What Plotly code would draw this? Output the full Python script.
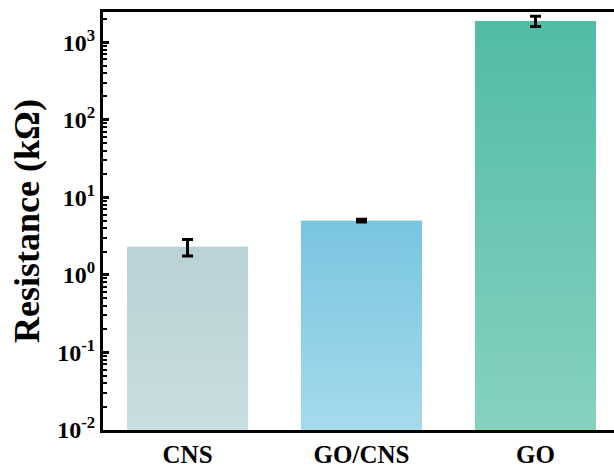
import plotly.graph_objects as go

categories = ["CNS", "GO/CNS", "GO"]
resistance = [2.3, 5.0, 1880]          # kΩ
resistance_err = [0.55, 0.2, 280]
top_colors = ["#B9D2D5", "#78C5E0", "#52BBA6"]
bottom_colors = ["#C9DEE0", "#A6DAEC", "#86D2C1"]
mid_colors = ["#C1D8DB", "#8FCFE6", "#6CC7B3"]
y_tick_values = [1e-2, 1e-1, 1, 10, 100, 1000]
y_tick_labels = ["10<sup>-2</sup>", "10<sup>-1</sup>", "10<sup>0</sup>",
                 "10<sup>1</sup>", "10<sup>2</sup>", "10<sup>3</sup>"]

FONT = "Liberation Serif"
bar_width = 0.695
y_log_range = [-2, 3.39]
y_bottom = 10 ** y_log_range[0]
xpos = list(range(len(categories)))

fig = go.Figure()

fig.add_trace(go.Bar(
    x=xpos, y=resistance, width=bar_width,
    marker=dict(color=mid_colors, line=dict(width=0)),
    showlegend=False, hoverinfo="skip",
))

for i, v in enumerate(resistance):
    x0 = xpos[i] - bar_width / 2
    x1 = xpos[i] + bar_width / 2
    fig.add_trace(go.Scatter(
        x=[x0, x1, x1, x0, x0],
        y=[y_bottom, y_bottom, v, v, y_bottom],
        mode="lines", line=dict(width=0),
        fill="toself",
        fillgradient=dict(type="vertical",
                          colorscale=[[0, bottom_colors[i]], [1, top_colors[i]]]),
        showlegend=False, hoverinfo="skip",
    ))

fig.add_trace(go.Scatter(
    x=xpos, y=resistance, mode="markers",
    marker=dict(size=1, color="rgba(0,0,0,0)"),
    error_y=dict(type="data", array=resistance_err, visible=True,
                 color="black", thickness=3, width=5.5),
    showlegend=False, hoverinfo="skip",
))

minor_vals = [k * 10 ** n for n in range(-2, 4) for k in range(2, 10)
              if k * 10 ** n <= 10 ** y_log_range[1]]

fig.update_layout(
    width=614, height=468,
    margin=dict(l=103, r=0, t=12, b=38),
    paper_bgcolor="white", plot_bgcolor="white",
    font=dict(family=FONT, color="black", size=24, weight="bold"),
    xaxis=dict(
        range=[-0.486, 2.451],
        tickmode="array", tickvals=xpos, ticktext=categories,
        tickfont=dict(family=FONT, size=25, color="black", weight="bold"),
        showline=True, linecolor="black", linewidth=3, mirror=True,
        ticks="", showgrid=False, zeroline=False,
    ),
    yaxis=dict(
        type="log", range=y_log_range,
        tickmode="array", tickvals=y_tick_values, ticktext=y_tick_labels,
        tickfont=dict(family=FONT, size=24, color="black", weight="bold"),
        ticks="inside", ticklen=6, tickwidth=3, tickcolor="black",
        minor=dict(tickmode="array", tickvals=minor_vals, ticks="inside",
                   ticklen=4, tickwidth=2, tickcolor="black", showgrid=False),
        showline=True, linecolor="black", linewidth=3, mirror=False,
        showgrid=False, zeroline=False,
        title=dict(text="Resistance (kΩ)", standoff=7,
                   font=dict(family=FONT, size=36, color="black", weight="bold")),
    ),
)

fig.write_html("out.html")
